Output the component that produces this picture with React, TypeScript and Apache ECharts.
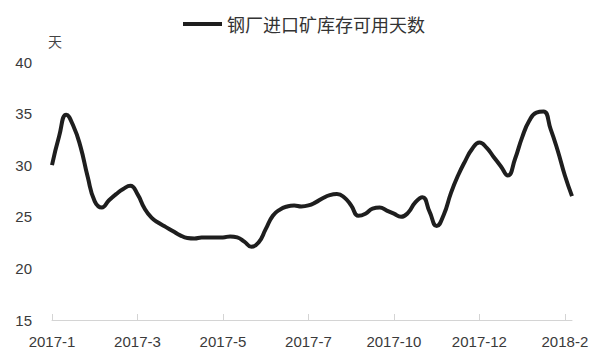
import React, { useEffect, useRef } from "react";
import * as echarts from "echarts";

const seriesName = "钢厂进口矿库存可用天数";
const unitLabel = "天";
const tickLabels = ["2017-1", "2017-3", "2017-5", "2017-7", "2017-10", "2017-12", "2018-2"];
const pointsPerTick = 12;
const values = [
  30.0, 32.8, 34.9, 33.8, 31.8, 28.9, 26.5, 25.9, 26.6, 27.2,
  27.7, 28.0, 27.2, 25.8, 24.9, 24.4, 24.0, 23.6, 23.2, 22.95,
  22.9, 23.0, 23.0, 23.0, 23.0, 23.1, 23.0, 22.6, 22.1, 22.5,
  23.8, 25.1, 25.7, 26.0, 26.1, 26.0, 26.1, 26.4, 26.8, 27.1,
  27.2, 26.9, 26.1, 25.1, 25.3, 25.8, 25.9, 25.6, 25.3, 25.0,
  25.4, 26.4, 26.9, 25.5, 24.1, 25.2, 27.3, 29.0, 30.4, 31.6,
  32.2, 31.7, 30.8, 29.9, 29.0, 30.6, 32.7, 34.3, 35.1, 35.2,
  33.5, 31.4, 29.0, 27.0,
];
const categories = values.map((_, i) =>
  i % pointsPerTick === 0 ? tickLabels[i / pointsPerTick] : `p${i}`
);

const numFont = "'Liberation Sans', Arial, sans-serif";

export default function App() {
  const ref = useRef<HTMLDivElement>(null);
  useEffect(() => {
    if (!ref.current) return;
    const chart = echarts.init(ref.current, undefined, { renderer: "svg" });
    chart.setOption({
      animation: false,
      backgroundColor: "#ffffff",
      legend: {
        top: 10,
        left: 178,
        icon: "rect",
        itemWidth: 39,
        itemHeight: 4,
        textStyle: { fontFamily: "Noto Sans CJK SC", fontSize: 18, color: "#333" },
        data: [seriesName],
      },
      graphic: [
        {
          type: "text",
          left: 48,
          top: 34,
          style: { text: unitLabel, fontFamily: "Noto Sans CJK SC", fontSize: 14, fill: "#444" },
        },
      ],
      grid: { left: 52, right: 28, top: 62, bottom: 43 },
      xAxis: {
        type: "category",
        boundaryGap: false,
        data: categories,
        axisLine: { lineStyle: { color: "#d4d4d4", width: 1 } },
        axisTick: { show: true, inside: true, length: 6, interval: pointsPerTick - 1, lineStyle: { color: "#d4d4d4" } },
        axisLabel: {
          interval: pointsPerTick - 1,
          margin: 14,
          fontFamily: numFont,
          fontSize: 15,
          color: "#3a3a3a",
        },
        splitLine: { show: false },
      },
      yAxis: {
        type: "value",
        min: 15,
        max: 40,
        interval: 5,
        axisLine: { show: false },
        axisTick: { show: false },
        splitLine: { show: false },
        axisLabel: { margin: 20, fontFamily: numFont, fontSize: 15, color: "#3a3a3a" },
      },
      series: [
        {
          name: seriesName,
          type: "line",
          data: values,
          smooth: true,
          showSymbol: false,
          symbol: "none",
          lineStyle: { color: "#1e1e1e", width: 4 },
          itemStyle: { color: "#1e1e1e" },
        },
      ],
    });
    return () => chart.dispose();
  }, []);
  return <div ref={ref} style={{ width: 600, height: 363, position: "fixed", left: 0, top: 0 }} />;
}
